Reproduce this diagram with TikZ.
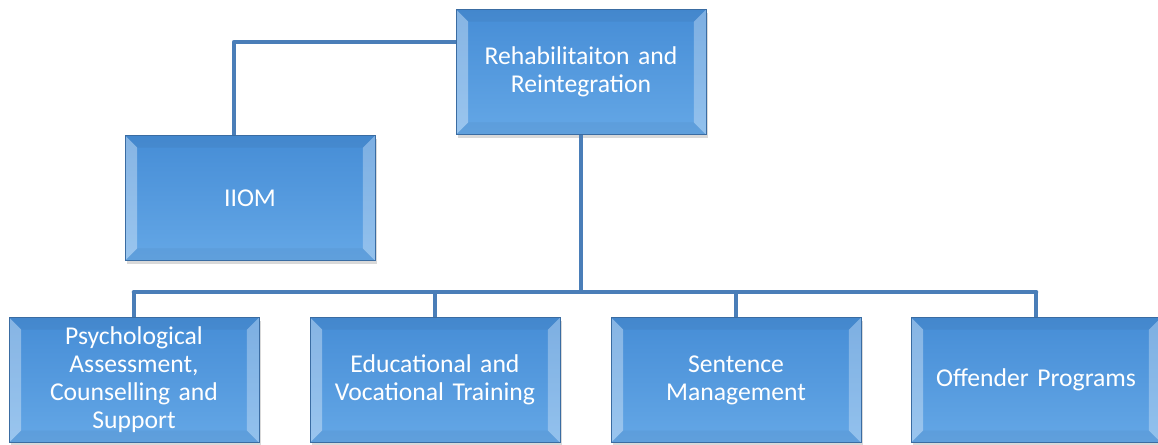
\documentclass[tikz,border=0pt]{standalone}
\usepackage{fontspec}
\setmainfont{Carlito}
\usetikzlibrary{calc, positioning, shadows}

\definecolor{linkblue}{RGB}{74,126,184}
\definecolor{boxtop}{RGB}{70,141,214}
\definecolor{boxbottom}{RGB}{100,167,230}
\definecolor{boxedge}{RGB}{58,108,162}

\begin{document}
\begin{tikzpicture}[
    x=0.02cm, y=-0.02cm,
    bevelbox/.style={draw=boxedge, line width=0.5pt, top color=boxtop, bottom color=boxbottom,
        minimum width=5cm, minimum height=2.5cm, inner sep=0pt, text width=4.7cm,
        align=center, text=white, font=\fontsize{14.6}{15.9}\selectfont,
        drop shadow={shadow xshift=1pt, shadow yshift=-2pt, opacity=0.3},
        path picture={
            \fill[white, opacity=0.35] (path picture bounding box.north west) -- ++(0.24cm,-0.24cm)
                -- ($(path picture bounding box.south west)+(0.24cm,0.24cm)$) -- (path picture bounding box.south west) -- cycle;
            \fill[white, opacity=0.3] (path picture bounding box.north east) -- ++(-0.24cm,-0.24cm)
                -- ($(path picture bounding box.south east)+(-0.24cm,0.24cm)$) -- (path picture bounding box.south east) -- cycle;
            \fill[black, opacity=0.04] (path picture bounding box.north west) -- ++(0.24cm,-0.24cm)
                -- ($(path picture bounding box.north east)+(-0.24cm,-0.24cm)$) -- (path picture bounding box.north east) -- cycle;
            \fill[black, opacity=0.04] (path picture bounding box.south west) -- ++(0.24cm,0.24cm)
                -- ($(path picture bounding box.south east)+(-0.24cm,0.24cm)$) -- (path picture bounding box.south east) -- cycle;
        }},
    link/.style={linkblue, line width=2.6pt}
]

\useasboundingbox (0,0) rectangle (1158,444);

% Boxes
\node[bevelbox] (rehab) at (581,72) {Rehabilitaiton and\\Reintegration};
\node[bevelbox] (iiom) at (250,198) {IIOM};

\node[bevelbox] (psych) at (134,380) {Psychological\\Assessment,\\Counselling and\\Support};
\node[bevelbox] (edu) at (435,380) {Educational and\\Vocational Training};
\node[bevelbox] (sent) at (736,380) {Sentence\\Management};
\node[bevelbox] (offender) at (1036,380) {Offender Programs};

% Connectors
\coordinate (iiomjoin) at (234,42);
\coordinate (bus) at (0,292);

\draw[link, line join=round] (rehab.west |- iiomjoin) -- (iiomjoin) -- (iiomjoin |- iiom.north);
\draw[link] (rehab.south) -- (rehab.south |- bus);
\draw[link, line cap=round] (psych.north |- bus) -- (offender.north |- bus);
\foreach \n in {psych, edu, sent, offender}
    \draw[link] (\n.north |- bus) -- (\n.north);

\end{tikzpicture}
\end{document}
